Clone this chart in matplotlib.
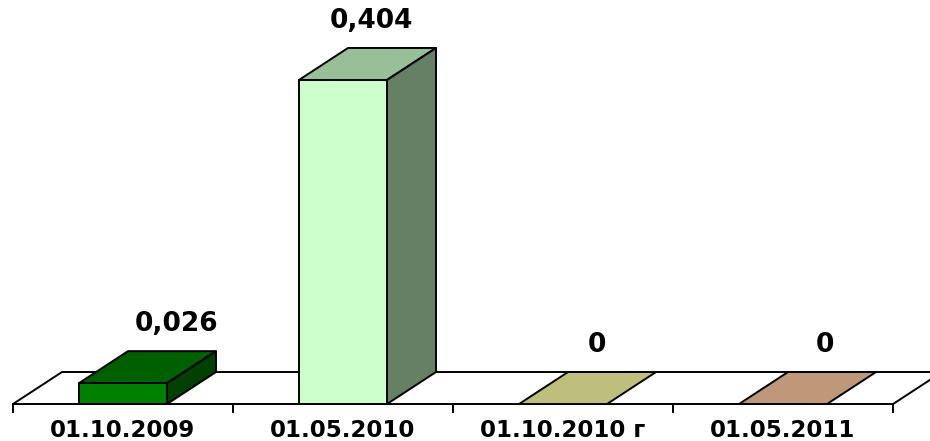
"""3D-style column chart: four dates, two non-zero values."""

import matplotlib.pyplot as plt
from matplotlib.patches import Polygon
from matplotlib.colors import to_rgb

categories = ["01.10.2009", "01.05.2010", "01.10.2010 г", "01.05.2011"]
values = [0.026, 0.404, 0.0, 0.0]
value_labels = ["0,026", "0,404", "0", "0"]
front_colors = ["#008000", "#ccffcc", "#ffffa6", "#ffcaa2"]

# geometry (category units / value units)
bar_w = 0.40
depth_x = 0.2227
depth_y = 0.0399
label_dx = [0.245, 0.13, 0.155, 0.19]


def shade(color, f):
    r, g, b = to_rgb(color)
    return (r * f, g * f, b * f)


fig = plt.figure(figsize=(9.3, 4.41), dpi=100)
ax = fig.add_axes([0, 0, 1, 1])
ax.set_xlim(-0.559, 3.668)
ax.set_ylim(-0.0461, 0.5037)
ax.axis("off")

n = len(categories)
x0, x1 = -0.5, n - 0.5
floor = Polygon(
    [(x0, 0), (x1, 0), (x1 + depth_x, depth_y), (x0 + depth_x, depth_y)],
    closed=True, facecolor="white", edgecolor="black", linewidth=1.4, zorder=1,
)
ax.add_patch(floor)

# category ticks below the front floor edge
for i in range(n + 1):
    ax.plot([i - 0.5, i - 0.5], [0, -0.0095], color="black", linewidth=1.4, zorder=2)

for i, (v, col) in enumerate(zip(values, front_colors)):
    left, right = i - bar_w / 2, i + bar_w / 2
    ekw = dict(edgecolor="black", linewidth=1.4, joinstyle="round")
    top = Polygon(
        [(left, v), (right, v), (right + depth_x, v + depth_y), (left + depth_x, v + depth_y)],
        closed=True, facecolor=shade(col, 0.75), zorder=3 + i, **ekw,
    )
    ax.add_patch(top)
    if v > 0:
        side = Polygon(
            [(right, 0), (right + depth_x, depth_y), (right + depth_x, v + depth_y), (right, v)],
            closed=True, facecolor=shade(col, 0.5), zorder=3 + i, **ekw,
        )
        front = Polygon(
            [(left, 0), (right, 0), (right, v), (left, v)],
            closed=True, facecolor=col, zorder=3 + i, **ekw,
        )
        ax.add_patch(side)
        ax.add_patch(front)
    ax.text(i + label_dx[i], v + depth_y + 0.034, value_labels[i],
            ha="center", va="center", fontsize=19, fontweight="bold",
            family="DejaVu Sans", zorder=10)

for i, cat in enumerate(categories):
    ax.text(i, -0.0330, cat, ha="center", va="center", fontsize=16.5,
            fontweight="bold", family="DejaVu Sans", zorder=10)

fig.savefig("out.png", dpi=100)
